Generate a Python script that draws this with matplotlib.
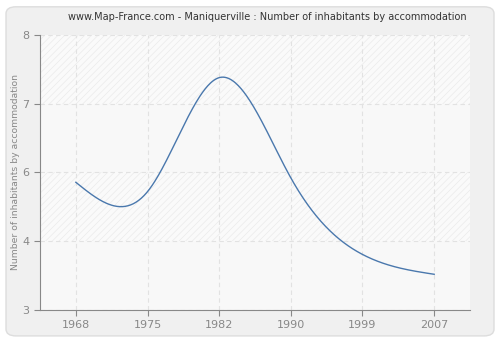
import matplotlib
matplotlib.use("Agg")
import matplotlib.pyplot as plt
import numpy as np
from matplotlib.patches import FancyBboxPatch

years = ["1968", "1975", "1982", "1990", "1999", "2007"]
values = [5.32, 5.15, 7.22, 5.40, 4.01, 3.65]
y_ticks = np.linspace(3, 8, 5)
y_labels = ["3", "4", "6", "7", "8"]


def natural_spline(x, y, n=400):
	# natural cubic spline through the points
	x = np.asarray(x, float)
	y = np.asarray(y, float)
	k = len(x)
	h = np.diff(x)
	A = np.zeros((k, k))
	b = np.zeros(k)
	A[0, 0] = 1
	A[-1, -1] = 1
	for i in range(1, k - 1):
		A[i, i - 1] = h[i - 1]
		A[i, i] = 2 * (h[i - 1] + h[i])
		A[i, i + 1] = h[i]
		b[i] = 3 * ((y[i + 1] - y[i]) / h[i] - (y[i] - y[i - 1]) / h[i - 1])
	c = np.linalg.solve(A, b)
	xs = np.linspace(x[0], x[-1], n)
	ys = np.zeros(n)
	for j, xv in enumerate(xs):
		i = min(np.searchsorted(x, xv, side="right") - 1, k - 2)
		d = xv - x[i]
		bi = (y[i + 1] - y[i]) / h[i] - h[i] * (2 * c[i] + c[i + 1]) / 3
		di = (c[i + 1] - c[i]) / (3 * h[i])
		ys[j] = y[i] + bi * d + c[i] * d ** 2 + di * d ** 3
	return xs, ys


plt.rcParams["hatch.linewidth"] = 0.5

fig = plt.figure(figsize=(5, 3.4), dpi=100)
fig.patch.set_facecolor("white")
bg = FancyBboxPatch((0.012, 0.012), 0.976, 0.968, boxstyle="round,pad=0,rounding_size=0.02",
	transform=fig.transFigure, facecolor="#f0f0f0", edgecolor="#dddddd", linewidth=1, zorder=-10)
fig.patches.append(bg)

ax = fig.add_axes([0.08, 0.088, 0.86, 0.810])
ax.set_facecolor("#f8f8f8")
for i in range(4):
	lo, hi = y_ticks[i], y_ticks[i + 1]
	if i % 2 == 1:
		ax.axhspan(lo, hi, facecolor="#fafafa", edgecolor="#ebebeb", hatch="/////", linewidth=0, zorder=0)
	else:
		ax.axhspan(lo, hi, facecolor="#f8f8f8", linewidth=0, zorder=0)

xi = np.arange(len(years))
xs, ys = natural_spline(xi, values)
ax.plot(xs, ys, color="#4a78ad", linewidth=1, zorder=3)

ax.set_xlim(-0.5, 5.5)
ax.set_ylim(3, 8)
ax.set_xticks(xi)
ax.set_xticklabels(years)
ax.set_yticks(y_ticks)
ax.set_yticklabels(y_labels)
ax.grid(True, color="#e2e2e2", linestyle=(0, (4, 3)), linewidth=0.8, zorder=1)
ax.set_axisbelow(True)

for s in ["top", "right"]:
	ax.spines[s].set_visible(False)
for s in ["left", "bottom"]:
	ax.spines[s].set_color("#888888")
ax.tick_params(colors="#888888", labelsize=8, length=4, width=0.8, labelcolor="#888888")

ax.set_ylabel("Number of inhabitants by accommodation", fontsize=6.7, color="#888888", labelpad=2)
fig.text(0.535, 0.95, "www.Map-France.com - Maniquerville : Number of inhabitants by accommodation",
	fontsize=7, color="#333333", ha="center", va="center")

fig.savefig("out.png", dpi=100, facecolor=fig.get_facecolor())
